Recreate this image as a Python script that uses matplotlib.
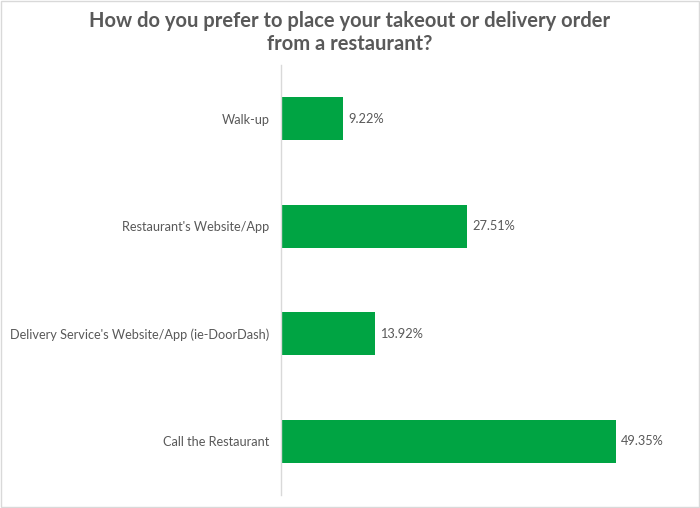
import matplotlib
matplotlib.use("Agg")
import matplotlib.pyplot as plt
from matplotlib.patches import Rectangle

categories = ["Walk-up", "Restaurant's Website/App",
              "Delivery Service's Website/App (ie-DoorDash)", "Call the Restaurant"]
values = [9.22, 27.51, 13.92, 49.35]
value_labels = ["9.22%", "27.51%", "13.92%", "49.35%"]

plt.rcParams['font.family'] = ['Lato', 'DejaVu Sans']
gray = "#595959"
green = "#00A443"

fig = plt.figure(figsize=(7.0, 5.08), dpi=100)
ax = fig.add_axes([0.401, 0.0256, 0.549, 0.8464])
pos = list(range(len(categories)))
ax.barh(pos, values, height=0.4, color=green)
ax.set_ylim(3.5, -0.5)
ax.set_xlim(0, 56.6)
ax.set_yticks(pos)
ax.set_yticklabels(categories, color=gray, fontsize=9.2)
ax.tick_params(axis='y', length=0, pad=8)
ax.set_xticks([])
for s in ['top', 'right', 'bottom']:
    ax.spines[s].set_visible(False)
ax.spines['left'].set_color('#d9d9d9')
ax.spines['left'].set_linewidth(1)
for p, v, l in zip(pos, values, value_labels):
    ax.text(v + 0.7, p, l, va='center', ha='left', color=gray, fontsize=9.2)

fig.text(0.5, 0.978, "How do you prefer to place your takeout or delivery order\nfrom a restaurant?",
         ha='center', va='top', fontsize=14.5, fontweight='bold', color=gray, linespacing=1.15)
fig.patches.append(Rectangle((0.001, 0.001), 0.997, 0.997, transform=fig.transFigure,
                             fill=False, edgecolor='#d9d9d9', linewidth=1))
fig.savefig("out.png", dpi=100, facecolor='white')
